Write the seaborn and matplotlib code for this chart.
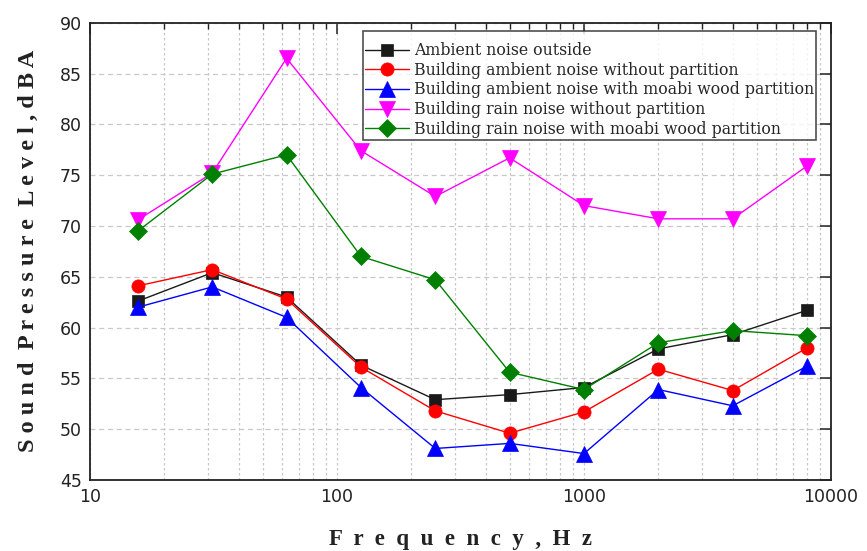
import matplotlib
matplotlib.use("Agg")
import matplotlib.pyplot as plt
import seaborn as sns
import numpy as np
import pandas as pd
from matplotlib.ticker import LogLocator, NullFormatter, FixedLocator

freq = [15.625, 31.25, 62.5, 125, 250, 500, 1000, 2000, 4000, 8000]

ambient_outside = [62.6, 65.4, 63.0, 56.3, 52.9, 53.4, 54.1, 57.9, 59.3, 61.7]
bldg_ambient_no_part = [64.1, 65.7, 62.8, 56.1, 51.8, 49.6, 51.7, 55.9, 53.8, 58.0]
bldg_ambient_moabi = [62.0, 64.0, 61.0, 54.1, 48.1, 48.6, 47.6, 53.9, 52.3, 56.2]
bldg_rain_no_part = [70.6, 75.2, 86.5, 77.4, 72.9, 76.7, 72.0, 70.7, 70.7, 75.9]
bldg_rain_moabi = [69.5, 75.1, 77.0, 67.0, 64.7, 55.6, 53.9, 58.5, 59.7, 59.2]

labels = [
    "Ambient noise outside",
    "Building ambient noise without partition",
    "Building ambient noise with moabi wood partition",
    "Building rain noise without partition",
    "Building rain noise with moabi wood partition",
]
x_ticks = [10, 100, 1000, 10000]
x_ticklabels = ["10", "100", "1000", "10000"]
series = [ambient_outside, bldg_ambient_no_part, bldg_ambient_moabi,
          bldg_rain_no_part, bldg_rain_moabi]
colors = ["#1a1a1a", "#ff0000", "#0000ff", "#ff00ff", "#008000"]
markers = ["s", "o", "^", "v", "D"]
msizes = [8.5, 9.5, 11, 11, 8.7]

sns.set_style("white")
plt.rcParams["font.family"] = ["DejaVu Sans"]

fig = plt.figure(figsize=(8.67, 5.51), dpi=100)
ax = fig.add_axes([0.1038, 0.1289, 0.9585 - 0.1038, 0.9588 - 0.1289])

for lab, vals, c, m, ms in zip(labels, series, colors, markers, msizes):
    df = pd.DataFrame({"f": freq, "v": vals})
    sns.lineplot(data=df, x="f", y="v", ax=ax, color=c, marker=m,
                 markersize=ms, markeredgecolor=c, markeredgewidth=0.5,
                 linewidth=1.0, label=lab)

ax.set_xscale("log")
ax.set_xlim(10, 10000)
ax.set_ylim(45, 90)
ax.set_yticks(np.arange(45, 91, 5))
ax.xaxis.set_major_locator(FixedLocator(x_ticks))
ax.set_xticklabels(x_ticklabels)
ax.xaxis.set_minor_locator(LogLocator(base=10, subs=np.arange(2, 10), numticks=20))
ax.xaxis.set_minor_formatter(NullFormatter())

ax.grid(which="major", axis="y", linestyle=(0, (4, 3)), color="#c8c8c8", linewidth=0.9)
ax.grid(which="major", axis="x", linestyle=(0, (2, 2)), color="#c8c8c8", linewidth=0.9)
ax.grid(which="minor", axis="x", linestyle=(0, (2, 2)), color="#c8c8c8", linewidth=0.9)
ax.set_axisbelow(True)

ax.tick_params(which="major", direction="in", length=8, width=1.1, top=True, right=True,
               labelsize=12.5, colors="#222222", pad=6)
ax.tick_params(which="minor", direction="in", length=4, width=1.0, top=True, right=True,
               colors="#222222")
for s in ax.spines.values():
    s.set_linewidth(1.3)
    s.set_color("#222222")

ax.set_xlabel("F  r  e  q  u  e  n  c  y  ,  H  z", fontsize=16.5, fontweight="bold",
              family=["Liberation Serif", "DejaVu Serif"], labelpad=16, color="#222222")
ax.set_ylabel("S o u n d  P r e s s u r e  L e v e l , d B A", fontsize=17.5,
              fontweight="bold", family=["Liberation Serif", "DejaVu Serif"],
              labelpad=15, color="#222222")

leg = ax.legend(loc="upper left", bbox_to_anchor=(363 / 867, 1 - 31 / 551),
                bbox_transform=fig.transFigure, frameon=True,
                fancybox=False, edgecolor="#222222", handlelength=2.75,
                handletextpad=0.33, labelspacing=0.17, borderpad=0.15,
                borderaxespad=0.0, title=" ", title_fontsize=5,
                prop={"family": ["DejaVu Serif"], "size": 11.3})
leg.get_frame().set_linewidth(1.2)

fig.savefig("out.png", dpi=100)
